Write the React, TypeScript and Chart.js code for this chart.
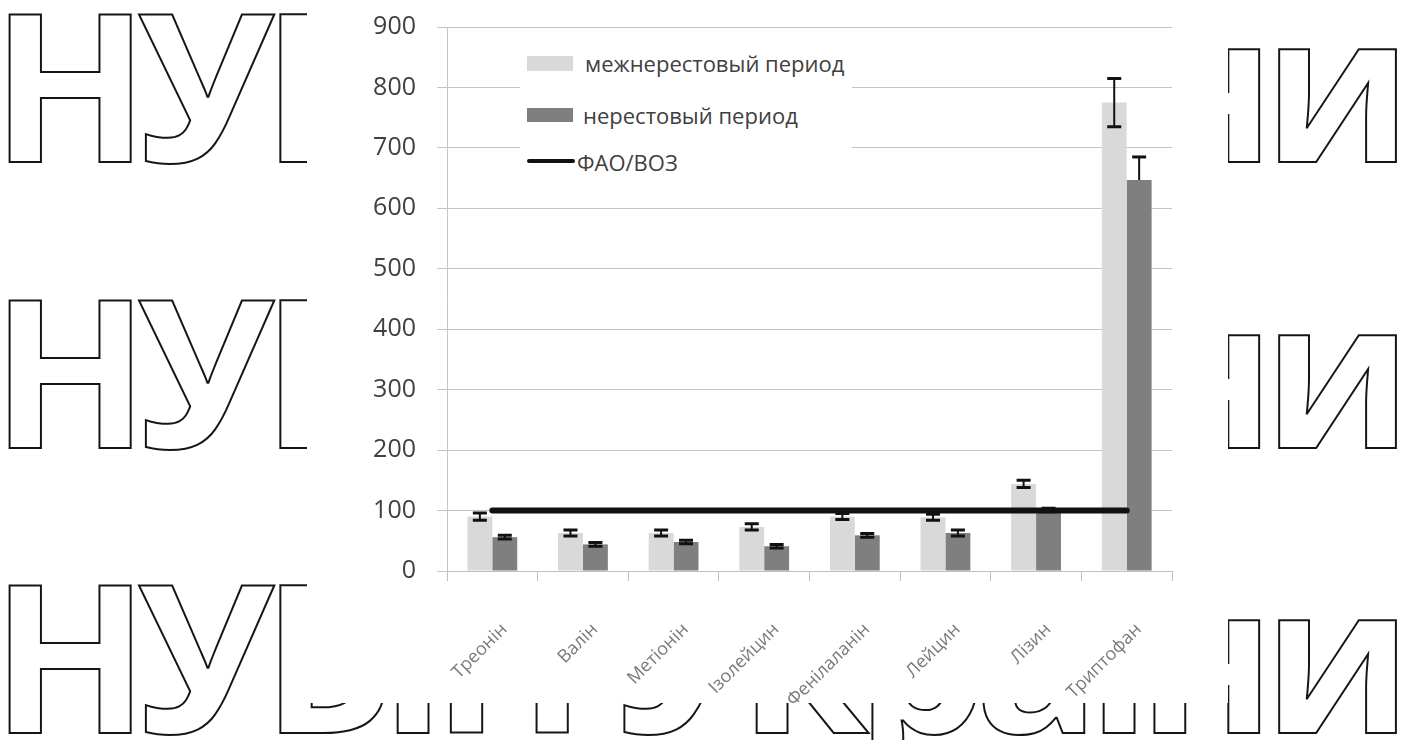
import React, { useEffect, useRef } from "react";
import { Chart, registerables } from "chart.js";

Chart.register(...registerables);

const categories = ["Треонін", "Валін", "Метіонін", "Ізолейцин", "Фенілаланін", "Лейцин", "Лізин", "Триптофан"];
const seriesNames = ["межнерестовый период", "нерестовый период", "ФАО/ВОЗ"];
const interSpawning = [90, 63, 63, 73, 90, 89, 144, 775];
const interSpawningErr = [6, 5, 5, 5, 5, 5, 6, 40];
const spawning = [56, 44, 48, 41, 59, 63, 101, 647];
const spawningErrPlus = [3, 3, 3, 3, 3, 5, 3, 38];
const spawningErrMinus = [3, 3, 3, 3, 3, 5, 3, 0];
const faoWho = [100, 100, 100, 100, 100, 100, 100, 100];
const yMin = 0;
const yMax = 900;
const yStep = 100;
const watermarkRows = ["НУБіП України", "НУБіП України", "НУБіП України"];

const LIGHT = "#d9d9d9";
const DARK = "#7f7f7f";
const FONT = "'Open Sans', sans-serif";

const errorMap: Record<number, { plus: number[]; minus: number[] }> = {
  1: { plus: interSpawningErr, minus: interSpawningErr },
  2: { plus: spawningErrPlus, minus: spawningErrMinus },
};

const errorBarPlugin = {
  id: "errorBars",
  afterDatasetDraw(chart: any, args: any) {
    const err = errorMap[args.index];
    if (!err) return;
    const ds = chart.data.datasets[args.index];
    const y = chart.scales.y;
    const ctx = chart.ctx;
    ctx.save();
    ctx.strokeStyle = "#111";
    args.meta.data.forEach((el: any, i: number) => {
      const v = ds.data[i];
      const x = el.x;
      const yt = y.getPixelForValue(v + err.plus[i]);
      const yb = y.getPixelForValue(v - err.minus[i]);
      ctx.lineWidth = 2;
      ctx.beginPath();
      ctx.moveTo(x, yt);
      ctx.lineTo(x, yb);
      ctx.stroke();
      ctx.lineWidth = 3;
      const hw = 7;
      ctx.beginPath();
      ctx.moveTo(x - hw, yt);
      ctx.lineTo(x + hw, yt);
      if (err.minus[i] > 0) {
        ctx.moveTo(x - hw, yb);
        ctx.lineTo(x + hw, yb);
      }
      ctx.stroke();
    });
    ctx.restore();
  },
};

export default function App() {
  const canvasRef = useRef<HTMLCanvasElement | null>(null);

  useEffect(() => {
    if (!canvasRef.current) return;
    const chart = new Chart(canvasRef.current, {
      type: "bar",
      data: {
        labels: categories,
        datasets: [
          {
            type: "line",
            label: seriesNames[2],
            data: faoWho,
            borderColor: "#111",
            backgroundColor: "#111",
            borderWidth: 6,
            borderCapStyle: "round",
            pointRadius: 0,
            order: 0,
          } as any,
          {
            label: seriesNames[0],
            data: interSpawning,
            backgroundColor: LIGHT,
            borderWidth: 0,
            categoryPercentage: 0.55,
            barPercentage: 1.0,
            order: 1,
          },
          {
            label: seriesNames[1],
            data: spawning,
            backgroundColor: DARK,
            borderWidth: 0,
            categoryPercentage: 0.55,
            barPercentage: 1.0,
            order: 2,
          },
        ],
      },
      options: {
        animation: false,
        responsive: true,
        maintainAspectRatio: false,
        layout: { padding: { top: 27, right: 56, left: 0, bottom: 0 } },
        plugins: {
          legend: { display: false },
          tooltip: { enabled: false },
        },
        scales: {
          x: {
            offset: true,
            grid: {
              offset: true,
              drawOnChartArea: false,
              drawTicks: true,
              tickLength: 10,
              color: "#bfbfbf",
            },
            border: { color: "#bfbfbf", width: 1 },
            ticks: {
              autoSkip: false,
              maxRotation: 45,
              minRotation: 45,
              padding: 38,
              labelOffset: 12,
              color: "#7a7a7a",
              font: { family: FONT, size: 18 },
            },
            afterFit(scale: any) {
              scale.height = 132;
            },
          },
          y: {
            min: yMin,
            max: yMax,
            grid: {
              color: "#c4c4c4",
              tickLength: 10,
              drawTicks: true,
            },
            border: { color: "#c4c4c4", width: 1 },
            ticks: {
              stepSize: yStep,
              padding: 21,
              color: "#404040",
              font: { family: FONT, size: 25 },
            },
            afterFit(scale: any) {
              scale.width = 140;
              scale.paddingTop = 0;
              scale.paddingBottom = 0;
            },
          },
        },
      },
      plugins: [errorBarPlugin],
    });
    return () => chart.destroy();
  }, []);

  const rowBaselines = [162, 448, 733];

  return (
    <div
      style={{
        position: "fixed",
        left: 0,
        top: 0,
        width: 1408,
        height: 740,
        background: "#fff",
        overflow: "hidden",
      }}
    >
      <svg width={1408} height={740} style={{ position: "absolute", left: 0, top: 0 }}>
        {watermarkRows.map((t, i) => (
          <text
            key={i}
            x={-9}
            y={rowBaselines[i]}
            textLength={1421}
            lengthAdjust="spacing"
            fontFamily={FONT}
            fontWeight={700}
            fontSize={207}
            fill="none"
            stroke="#151515"
            strokeWidth={2}
          >
            {t}
          </text>
        ))}
      </svg>
      <div
        style={{
          position: "absolute",
          left: 307,
          top: 0,
          width: 921,
          height: 703,
          background: "#fff",
        }}
      >
        <canvas ref={canvasRef} />
      </div>
      <div
        style={{
          position: "absolute",
          left: 520,
          top: 40,
          width: 332,
          height: 142,
          background: "#fff",
          fontFamily: FONT,
          fontSize: 22,
          color: "#404040",
        }}
      >
        <div style={{ position: "absolute", left: 7, top: 16, width: 46, height: 15, background: LIGHT }} />
        <div style={{ position: "absolute", left: 65, top: 9, lineHeight: "28px", whiteSpace: "nowrap" }}>
          {seriesNames[0]}
        </div>
        <div style={{ position: "absolute", left: 7, top: 68, width: 46, height: 14, background: DARK }} />
        <div style={{ position: "absolute", left: 63, top: 61, lineHeight: "28px", whiteSpace: "nowrap" }}>
          {seriesNames[1]}
        </div>
        <div style={{ position: "absolute", left: 7, top: 119, width: 48, height: 4, background: "#111", borderRadius: 2 }} />
        <div style={{ position: "absolute", left: 57, top: 108, lineHeight: "28px", whiteSpace: "nowrap" }}>
          {seriesNames[2]}
        </div>
      </div>
    </div>
  );
}
